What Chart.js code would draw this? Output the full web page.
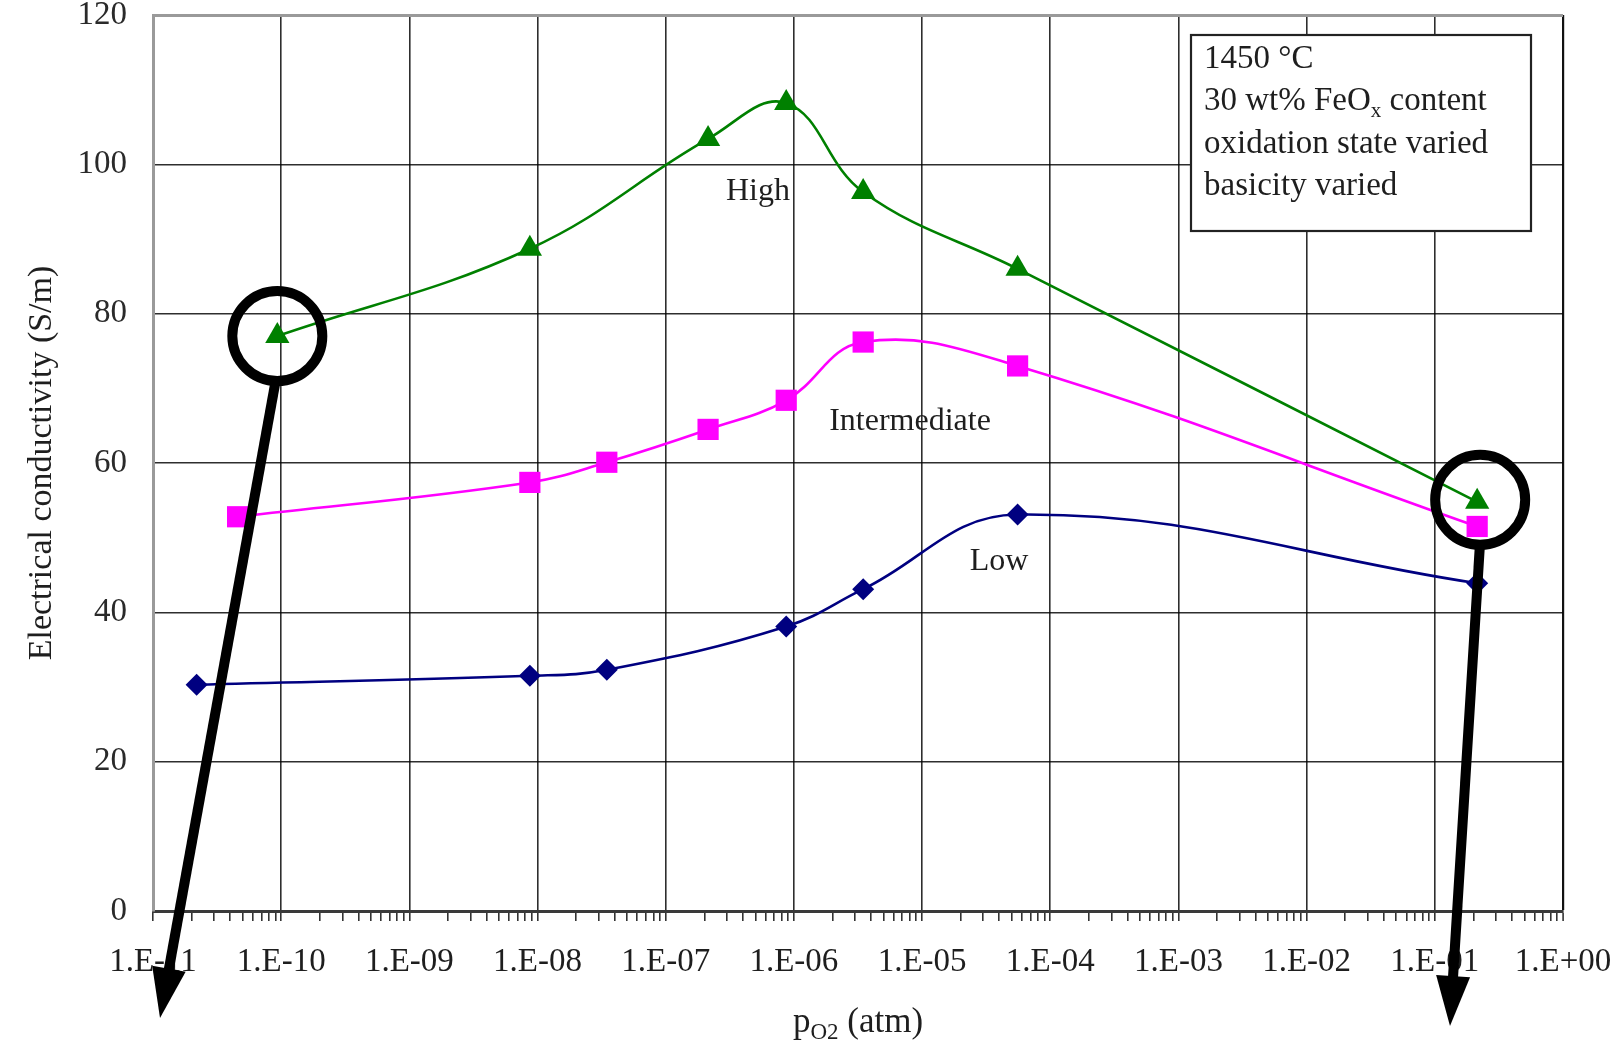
<!DOCTYPE html>
<html><head><meta charset="utf-8">
<script src="https://cdn.jsdelivr.net/npm/chart.js@4.4.0/dist/chart.umd.min.js"></script>
<style>html,body{margin:0;padding:0;background:#fff;}#wrap{width:1620px;height:1045px;}</style>
</head><body><div id="wrap"><canvas id="c" width="1620" height="1045"></canvas></div>
<script>
// ---- data ----
const seriesNames = ['Low', 'Intermediate', 'High'];
const lowPO2 = [2.19e-11, 8.71e-9, 3.47e-8, 8.71e-7, 3.47e-6, 5.56e-5, 0.214];
const lowSigma = [30.3, 31.5, 32.3, 38.1, 43.1, 53.1, 43.9];
const intPO2 = [4.57e-11, 8.71e-9, 3.47e-8, 2.14e-7, 8.71e-7, 3.47e-6, 5.56e-5, 0.214];
const intSigma = [52.8, 57.4, 60.1, 64.5, 68.4, 76.2, 73.0, 51.5];
const highPO2 = [9.33e-11, 8.71e-9, 2.14e-7, 8.71e-7, 3.47e-6, 5.56e-5, 0.214];
const highSigma = [77.0, 88.7, 103.4, 108.2, 96.3, 86.0, 54.8];
const xTickLabels = ['1.E-11','1.E-10','1.E-09','1.E-08','1.E-07','1.E-06','1.E-05','1.E-04','1.E-03','1.E-02','1.E-01','1.E+00'];
const yTickLabels = ['0','20','40','60','80','100','120'];
const xTitle = ['p', 'O2', ' (atm)'];
const yTitle = 'Electrical conductivity (S/m)';
const noteLines = [['1450 °C'], ['30 wt% FeO', 'x', ' content'], ['oxidation state varied'], ['basicity varied']];

const SERIF = '"Liberation Serif", "Times New Roman", serif';
const pts = (xs, ys) => xs.map((x, i) => ({x: x, y: ys[i]}));
const isDecade = v => Math.abs(Math.log10(v) - Math.round(Math.log10(v))) < 1e-6;

function arrow(ctx, x0, y0, x1, y1, lw, headLen, headW) {
  const dx = x1 - x0, dy = y1 - y0, L = Math.hypot(dx, dy), ux = dx / L, uy = dy / L;
  const bx = x1 - ux * headLen, by = y1 - uy * headLen;
  ctx.lineWidth = lw; ctx.lineCap = 'butt';
  ctx.beginPath(); ctx.moveTo(x0, y0); ctx.lineTo(bx + ux * 3, by + uy * 3); ctx.stroke();
  ctx.beginPath(); ctx.moveTo(x1, y1);
  ctx.lineTo(bx - uy * headW / 2, by + ux * headW / 2);
  ctx.lineTo(bx + uy * headW / 2, by - ux * headW / 2);
  ctx.closePath(); ctx.fill();
}

const overlay = {
  id: 'overlay',
  afterDatasetsDraw(chart) {
    const ctx = chart.ctx;
    ctx.save();
    ctx.fillStyle = '#1e1e1e';
    ctx.font = '32px ' + SERIF;
    ctx.textAlign = 'center'; ctx.textBaseline = 'middle';
    ctx.fillText(seriesNames[2], 758, 192);
    ctx.fillText(seriesNames[1], 910, 422);
    ctx.fillText(seriesNames[0], 999, 562);
    // note box
    ctx.fillStyle = '#fff'; ctx.fillRect(1191, 35, 340, 196);
    ctx.strokeStyle = '#222'; ctx.lineWidth = 2.2; ctx.strokeRect(1191, 35, 340, 196);
    ctx.fillStyle = '#1e1e1e'; ctx.textAlign = 'left'; ctx.textBaseline = 'alphabetic';
    const baselines = [68, 110, 153, 195];
    noteLines.forEach((parts, i) => {
      let x = 1204;
      parts.forEach((p, j) => {
        const sub = parts.length === 3 && j === 1;
        ctx.font = (sub ? '21px ' : '33px ') + SERIF;
        ctx.fillText(p, x, baselines[i] + (sub ? 7 : 0));
        x += ctx.measureText(p).width;
      });
    });
    ctx.restore();
  },
  afterDraw(chart) {
    const ctx = chart.ctx, a = chart.chartArea;
    ctx.save();
    // x axis title with subscript
    ctx.fillStyle = '#1e1e1e'; ctx.textBaseline = 'alphabetic'; ctx.textAlign = 'left';
    const fonts = ['35px ' + SERIF, '23px ' + SERIF, '35px ' + SERIF];
    let w = 0;
    xTitle.forEach((t, i) => { ctx.font = fonts[i]; w += ctx.measureText(t).width; });
    let x = (a.left + a.right) / 2 - w / 2;
    xTitle.forEach((t, i) => {
      ctx.font = fonts[i];
      ctx.fillText(t, x, 1032 + (i === 1 ? 7 : 0));
      x += ctx.measureText(t).width;
    });
    // highlight circles and arrows on the first and last "High" points
    const meta = chart.getDatasetMeta(2);
    const p0 = meta.data[0], p1 = meta.data[meta.data.length - 1];
    const r = 45;
    ctx.strokeStyle = '#000'; ctx.fillStyle = '#000'; ctx.lineWidth = 10;
    ctx.beginPath(); ctx.arc(p0.x, p0.y, r, 0, Math.PI * 2); ctx.stroke();
    ctx.beginPath(); ctx.arc(p1.x + 3, p1.y - 2, r, 0, Math.PI * 2); ctx.stroke();
    arrow(ctx, p0.x - 1, p0.y + r - 4, 160, 1018, 10, 50, 34);
    arrow(ctx, p1.x + 3, p1.y - 2 + r - 4, 1450, 1026, 10, 50, 34);
    ctx.restore();
  }
};

new Chart(document.getElementById('c'), {
  type: 'line',
  data: {
    datasets: [
      { label: seriesNames[0], data: pts(lowPO2, lowSigma), borderColor: '#000080', backgroundColor: '#000080',
        borderWidth: 2.6, pointStyle: 'rectRot', pointRadius: 11, pointBorderWidth: 0, tension: 0.4 },
      { label: seriesNames[1], data: pts(intPO2, intSigma), borderColor: '#ff00ff', backgroundColor: '#ff00ff',
        borderWidth: 2.6, pointStyle: 'rect', pointRadius: 15, pointBorderWidth: 0, tension: 0.4 },
      { label: seriesNames[2], data: pts(highPO2, highSigma), borderColor: '#008000', backgroundColor: '#008000',
        borderWidth: 2.6, pointStyle: 'triangle', pointRadius: 14, pointBorderWidth: 0, tension: 0.4 }
    ]
  },
  options: {
    responsive: false, animation: false, devicePixelRatio: 1,
    layout: { padding: { left: 0, right: 57, top: 13, bottom: 0 } },
    plugins: { legend: { display: false }, tooltip: { enabled: false }, title: { display: false } },
    scales: {
      x: {
        type: 'logarithmic', min: 1e-11, max: 1,
        afterBuildTicks(scale) {
          const t = [];
          for (let e = -11; e <= 0; e++) {
            for (let s = 1; s <= 9; s++) {
              const v = s * Math.pow(10, e);
              if (v > 1.0000001) break;
              t.push({ value: v, major: s === 1 });
            }
          }
          scale.ticks = t;
        },
        afterFit(scale) { scale.height = 134; scale.paddingLeft = 0; scale.paddingRight = 0; },
        grid: {
          color: c => (c.tick && isDecade(c.tick.value)) ? (c.tick.value >= 1 ? '#111' : 'rgba(0,0,0,0.82)') : 'rgba(0,0,0,0)',
          lineWidth: c => (c.tick && c.tick.value >= 1) ? 2.2 : 1.6,
          drawTicks: true, tickLength: 10, tickColor: '#333', tickWidth: 1.6
        },
        border: { display: true, color: '#3a3a3a', width: 3 },
        ticks: {
          autoSkip: false, maxRotation: 0, minRotation: 0, padding: 22,
          color: '#1e1e1e', font: { family: SERIF, size: 33 },
          callback: (v) => isDecade(v) ? xTickLabels[Math.round(Math.log10(v)) + 11] : ''
        }
      },
      y: {
        type: 'linear', min: 0, max: 120,
        afterBuildTicks(scale) { scale.ticks = yTickLabels.map(l => ({ value: Number(l) })); },
        afterFit(scale) { scale.width = 153; scale.paddingTop = 0; scale.paddingBottom = 0; },
        grid: {
          color: c => (c.tick && c.tick.value === 120) ? '#9a9a9a' : 'rgba(0,0,0,0.82)',
          lineWidth: c => (c.tick && c.tick.value === 120) ? 3 : 1.6,
          drawTicks: false
        },
        border: { display: true, color: '#9a9a9a', width: 3 },
        ticks: {
          padding: 26, color: '#2a2a2a', font: { family: SERIF, size: 33 },
          callback: (v, i) => yTickLabels[i]
        },
        title: {
          display: true, text: yTitle, color: '#1e1e1e',
          font: { family: SERIF, size: 34 }, padding: { top: 22, bottom: 0 }
        }
      }
    }
  },
  plugins: [overlay]
});
</script>
</body></html>
